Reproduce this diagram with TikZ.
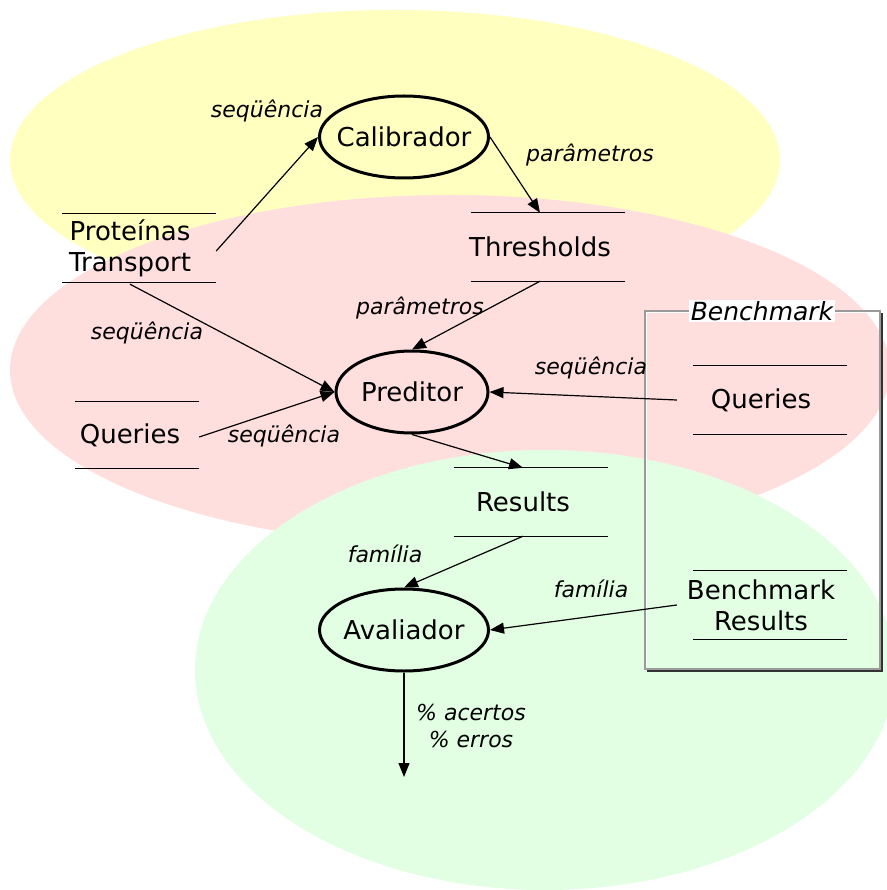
\documentclass[tikz,border=0pt]{standalone}
\usepackage{fontspec}
\setmainfont{DejaVu Sans}
\usetikzlibrary{arrows.meta,calc,shapes.geometric}
\definecolor{bgyellow}{HTML}{FFFFC0}
\definecolor{bgpink}{HTML}{FFDEDE}
\definecolor{bggreen}{HTML}{E3FFE3}
\definecolor{boxgray}{HTML}{9A9A9A}
\definecolor{shadowgray}{HTML}{333333}
\begin{document}
\begin{tikzpicture}[x=1pt,y=-1pt,
  proc/.style={ellipse,draw=black,line width=3pt,minimum width=169pt,minimum height=82pt,inner sep=0pt,
    label={[font=\fontsize{26}{30}\selectfont]center:#1}},
  store/.style={minimum width=154pt,minimum height=68pt,inner sep=0pt,align=center,font=\fontsize{26}{31}\selectfont},
  storeline/.style={line width=1.3pt},
  conn/.style={line width=1.2pt,-{Triangle[length=14pt,width=11pt]}},
  lbl/.style={font=\fontsize{22}{27}\selectfont\itshape,inner sep=1pt,align=center}
]
\useasboundingbox (0,0) rectangle (886,890);
% background regions
\fill[bgyellow] (395,160) ellipse [x radius=385, y radius=150];
\fill[bgpink] (450,370) ellipse [x radius=440, y radius=175];
\fill[bggreen] (545,670) ellipse [x radius=350, y radius=220];
% benchmark box
\draw[shadowgray,line width=2.4pt] (882,313) -- (882,671) -- (647,671);
\draw[white,line width=1pt] (646.5,668) -- (646.5,312.5) -- (879,312.5);
\draw[boxgray,line width=1.2pt] (645,311) rectangle (880,669);
\node[font=\fontsize{25}{30}\selectfont\itshape,fill=white,inner xsep=2pt,inner ysep=1pt] (bmlbl) at (762,311) {Benchmark};
% processes
\node[proc=Calibrador] (cal) at (404,137) {};
\node[proc=Preditor,minimum width=152pt] (pred) at (412,392) {};
\node[proc=Avaliador] (aval) at (404,630) {};
% data stores (text centre is a little left of the lines' centre)
\node[store] (prot) at (130,248) {Proteínas\\Transport};
\node[store] (thr) at (540,247) {Thresholds};
\node[store,minimum width=124pt,minimum height=67pt] (ql) at (130,435) {Queries};
\node[store] (res) at (523,502) {Results};
\node[store] (qr) at (761,400) {Queries};
\node[store] (bres) at (761,605) {Benchmark\\Results};
\foreach \s/\d in {prot/9,thr/8,ql/7,res/8,qr/9,bres/9}{
  \draw[storeline] ([xshift=\d pt]\s.north west) -- ([xshift=\d pt]\s.north east);
  \draw[storeline] ([xshift=\d pt]\s.south west) -- ([xshift=\d pt]\s.south east);
}
\coordinate (out) at (404,777);
% connectors
\draw[conn] ([xshift=9pt,yshift=-3pt]prot.east) -- (cal.west);
\draw[conn] (cal.east) -- (thr.north);
\draw[conn] (thr.south) -- (pred.north);
\draw[conn] ([yshift=-2pt]prot.south) -- (pred.west);
\draw[conn] ([xshift=7pt,yshift=-2pt]ql.east) -- (pred.west);
\draw[conn] ([xshift=-7pt]qr.west) -- (pred.east);
\draw[conn] (pred.south) -- (res.north);
\draw[conn] (res.south) -- (aval.north);
\draw[conn] ([xshift=-7pt]bres.west) -- (aval.east);
\draw[conn] (aval.south) -- (out);
% labels
\node[lbl] (l1) at (267,111) {seqüência};
\node[lbl] (l2) at (590,155) {parâmetros};
\node[lbl] (l3) at (420,308) {parâmetros};
\node[lbl] (l4) at (147,333) {seqüência};
\node[lbl] (l5) at (284,436) {seqüência};
\node[lbl] (l6) at (591,368) {seqüência};
\node[lbl] (l7) at (385,554) {família};
\node[lbl] (l8) at (591,589) {família};
\node[lbl] (l9) at (471,726) {\% acertos\\\% erros};
\end{tikzpicture}
\end{document}
